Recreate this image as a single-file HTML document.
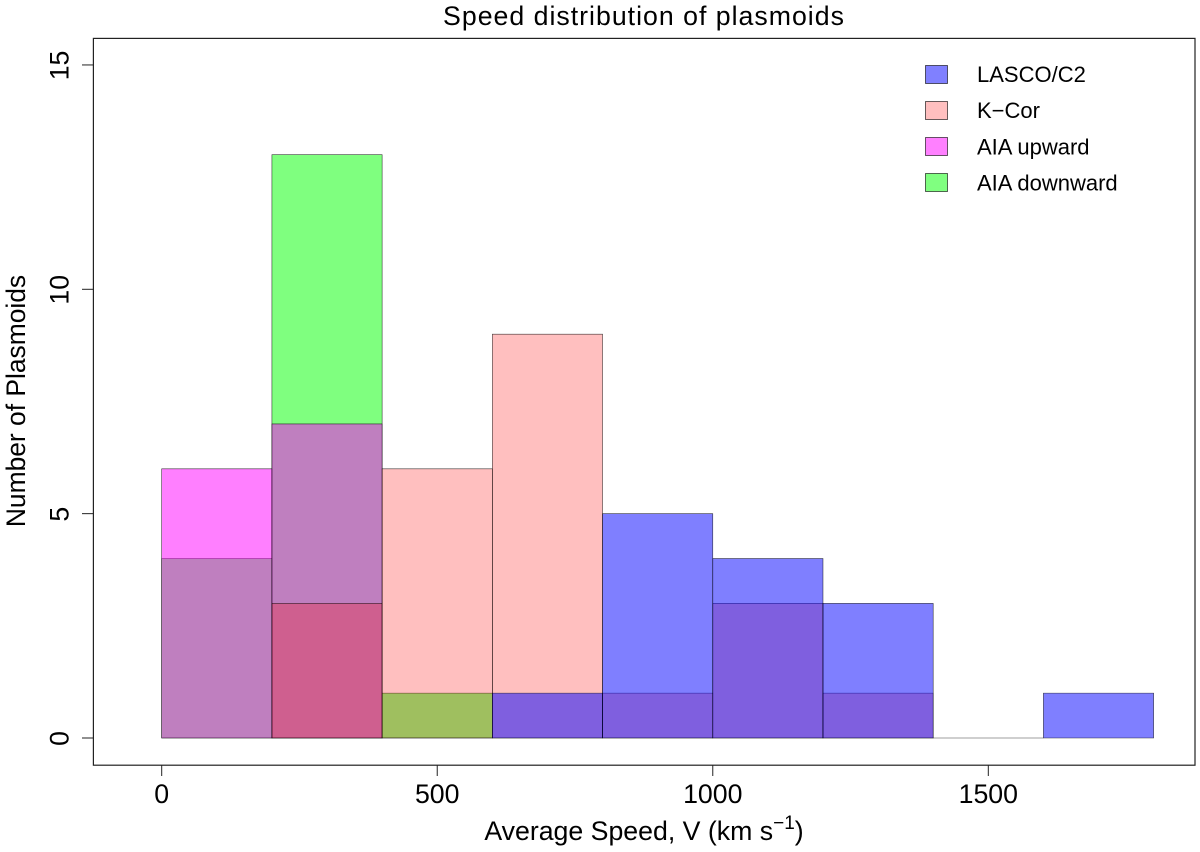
<!DOCTYPE html>
<html><head><meta charset="utf-8"><title>Speed distribution of plasmoids</title>
<style>
html,body{margin:0;padding:0;background:#fff;}
svg{display:block;}
text{font-family:"Liberation Sans",Arial,sans-serif;fill:#000;}
</style></head>
<body>
<svg id="chart" xmlns="http://www.w3.org/2000/svg" width="1200" height="852" viewBox="0 0 1200 852">
<rect x="0" y="0" width="1200" height="852" fill="#fff"/>
<g id="bars"></g>
<rect x="93.4" y="38.4" width="1101.6" height="726.8" fill="none" stroke="#222" stroke-width="1.2"/>
<g id="x-axis"></g>
<g id="y-axis"></g>
<text x="644" y="25" font-size="26.7" letter-spacing="1" text-anchor="middle">Speed distribution of plasmoids</text>
<text x="644" y="840" font-size="26.7" text-anchor="middle">Average Speed, V (km s<tspan font-size="19" dy="-11">−1</tspan><tspan dy="11">)</tspan></text>
<text transform="translate(25,401) rotate(-90)" font-size="26.4" text-anchor="middle">Number of Plasmoids</text>
<g>
<g>
<rect x="925.5" y="65.5" width="22" height="18" fill="rgb(128,128,255)" stroke="#000" stroke-width="0.6"/>
<text x="977" y="82" font-size="22">LASCO/C2</text>
</g>
<g>
<rect x="925.5" y="101.5" width="22" height="18" fill="rgb(255,191,191)" stroke="#000" stroke-width="0.6"/>
<text x="977" y="118" font-size="22">K−Cor</text>
</g>
<g>
<rect x="925.5" y="137.5" width="22" height="18" fill="rgb(255,128,255)" stroke="#000" stroke-width="0.6"/>
<text x="977" y="154.5" font-size="22">AIA upward</text>
</g>
<g>
<rect x="925.5" y="173.5" width="22" height="18" fill="rgb(128,255,128)" stroke="#000" stroke-width="0.6"/>
<text x="977" y="190.5" font-size="22">AIA downward</text>
</g>
</g>
</svg>
<script>
const binEdges = [0, 200, 400, 600, 800, 1000, 1200, 1400, 1600, 1800];
const aiaDownward = [4, 13, 1, 0, 0, 0, 0, 0, 0];
const aiaUpward = [6, 7, 0, 0, 0, 0, 0, 0, 0];
const kCor = [0, 3, 6, 9, 1, 3, 1, 0, 0];
const lasco = [0, 0, 0, 1, 5, 4, 3, 0, 1];
const xTicks = [0, 500, 1000, 1500];
const yTicks = [0, 5, 10, 15];

const NS = 'http://www.w3.org/2000/svg';
function xScale(v) { return 161.7 + v * 0.55107; }
function yScale(v) { return 738 - v * 44.87; }

function drawSeries(values, fill, name) {
  const group = document.getElementById('bars');
  let first = values.length, last = -1;
  values.forEach(function (v, i) {
    if (v > 0) { first = Math.min(first, i); last = Math.max(last, i); }
  });
  for (let i = first; i <= last; i++) {
    const x0 = xScale(binEdges[i]), x1 = xScale(binEdges[i + 1]);
    const y0 = yScale(0), y1 = yScale(values[i]);
    const bar = document.createElementNS(NS, 'path');
    bar.setAttribute('d', 'M' + x0 + ' ' + y0 + 'L' + x0 + ' ' + y1 + 'L' + x1 + ' ' + y1 + 'L' + x1 + ' ' + y0 + 'Z');
    bar.setAttribute('fill', fill);
    bar.setAttribute('stroke', 'rgba(0,0,0,0.75)');
    bar.setAttribute('stroke-width', '0.6');
    
    
    group.appendChild(bar);
  }
}
drawSeries(aiaDownward, 'rgba(0,255,0,0.5)', 'aia-downward');
drawSeries(aiaUpward, 'rgba(255,0,255,0.5)', 'aia-upward');
drawSeries(kCor, 'rgba(255,0,0,0.25)', 'k-cor');
drawSeries(lasco, 'rgba(0,0,255,0.5)', 'lasco');

const xAxis = document.getElementById('x-axis');
xTicks.forEach(function (t) {
  const tick = document.createElementNS(NS, 'line');
  tick.setAttribute('x1', xScale(t));
  tick.setAttribute('x2', xScale(t));
  tick.setAttribute('y1', 765);
  tick.setAttribute('y2', 776);
  tick.setAttribute('stroke', '#222');
  tick.setAttribute('stroke-width', '1');
  
  
  xAxis.appendChild(tick);
  const label = document.createElementNS(NS, 'text');
  label.setAttribute('x', xScale(t));
  label.setAttribute('y', 803);
  label.setAttribute('font-size', '26.7');
  label.setAttribute('text-anchor', 'middle');
  
  
  label.textContent = t;
  xAxis.appendChild(label);
});

const yAxis = document.getElementById('y-axis');
yTicks.forEach(function (t) {
  const tick = document.createElementNS(NS, 'line');
  tick.setAttribute('x1', 82);
  tick.setAttribute('x2', 93);
  tick.setAttribute('y1', yScale(t));
  tick.setAttribute('y2', yScale(t));
  tick.setAttribute('stroke', '#222');
  tick.setAttribute('stroke-width', '1');
  
  
  yAxis.appendChild(tick);
  const label = document.createElementNS(NS, 'text');
  label.setAttribute('transform', 'translate(68.5,' + (yScale(t) + 0.5) + ') rotate(-90)');
  label.setAttribute('font-size', '26.7');
  label.setAttribute('text-anchor', 'middle');
  
  
  label.textContent = t;
  yAxis.appendChild(label);
});
</script>
</body></html>
